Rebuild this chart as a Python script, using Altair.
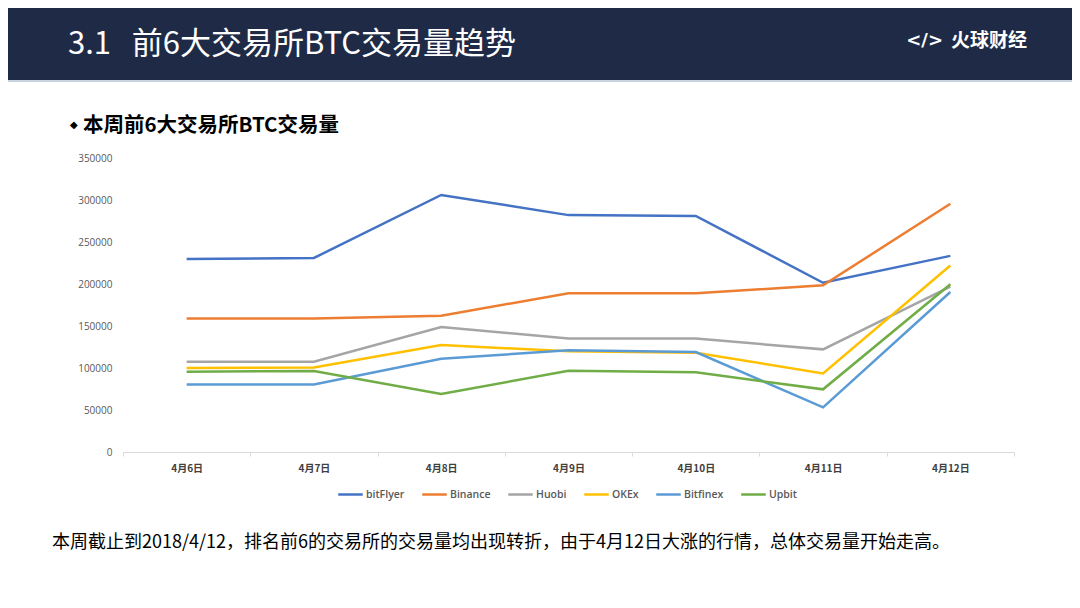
import altair as alt
import pandas as pd

dates = ["4月6日", "4月7日", "4月8日", "4月9日", "4月10日", "4月11日", "4月12日"]
exchanges = ["bitFlyer", "Binance", "Huobi", "OKEx", "Bitfinex", "Upbit"]
colors = ["#4472C4", "#ED7D31", "#A5A5A5", "#FFC000", "#5B9BD5", "#70AD47"]

bitflyer = [229800, 231000, 306000, 282000, 281000, 201500, 233500]
binance = [159000, 159000, 162300, 189000, 189000, 198400, 295500]
huobi = [107500, 107500, 148800, 135000, 135000, 122200, 197000]
okex = [100000, 100500, 127400, 119800, 118200, 93600, 222000]
bitfinex = [80500, 80500, 111100, 121000, 119000, 53200, 190500]
upbit = [95600, 96500, 69000, 96800, 94800, 74600, 199800]

series = [bitflyer, binance, huobi, okex, bitfinex, upbit]
rows = []
for name, vals in zip(exchanges, series):
    for d, v in zip(dates, vals):
        rows.append({"date": d, "exchange": name, "value": v})
df = pd.DataFrame(rows)

W, H = 891, 294
PL, PT = 115, 150
NAVY = "#1f2b46"
FONT = "Noto Sans CJK SC"

lines = alt.Chart(df).mark_line(strokeWidth=2.5).encode(
    x=alt.X("date:N", sort=dates, title=None,
            scale=alt.Scale(type="band", paddingInner=0, paddingOuter=0),
            axis=alt.Axis(labelAngle=0, tickBand="extent", domainColor="#d9d9d9",
                          tickColor="#d9d9d9", tickSize=4, labelPadding=7,
                          labelFont=FONT, labelFontSize=10, labelColor="#404040",
                          labelFontWeight="bold", grid=False)),
    y=alt.Y("value:Q", title=None,
            scale=alt.Scale(domain=[0, 350000], nice=False),
            axis=alt.Axis(values=[0, 50000, 100000, 150000, 200000, 250000, 300000, 350000],
                          format="d", domain=False, ticks=False, grid=False,
                          labelPadding=11, labelFont="Open Sans", labelFontSize=10,
                          labelColor="#595959")),
    color=alt.Color("exchange:N", sort=exchanges,
                    scale=alt.Scale(domain=exchanges, range=colors),
                    legend=alt.Legend(title=None, orient="none", direction="horizontal",
                                      legendX=214, legendY=323, symbolType="stroke",
                                      symbolSize=600, symbolStrokeWidth=2.5,
                                      columnPadding=12, labelFont="Open Sans",
                                      labelFontSize=10.5, labelColor="#595959",
                                      labelFontWeight=600, labelOffset=2)),
    detail="exchange:N",
)

dummy = pd.DataFrame({"k": [0]})

header = alt.Chart(dummy).mark_rect(color=NAVY).encode(
    x=alt.value(-PL), x2=alt.value(W + 60), y=alt.value(-PT), y2=alt.value(-78)
)
header_line = alt.Chart(dummy).mark_rect(color="#c9d4e0").encode(
    x=alt.value(-PL), x2=alt.value(W + 60), y=alt.value(-78), y2=alt.value(-76)
)

title = alt.Chart(dummy).mark_text(
    text="3.1\u00a0\u00a0 前6大交易所BTC交易量趋势", font=FONT, fontSize=31, color="white",
    align="left", baseline="alphabetic"
).encode(x=alt.value(-55), y=alt.value(-104))

logo_icon = alt.Chart(dummy).mark_text(
    text="</>", font="DejaVu Sans", fontSize=18, fontWeight="bold", color="white",
    align="right", baseline="alphabetic"
).encode(x=alt.value(820), y=alt.value(-112))

logo = alt.Chart(dummy).mark_text(
    text="火球财经", font=FONT, fontSize=19, fontWeight="bold", color="white",
    align="right", baseline="alphabetic"
).encode(x=alt.value(904), y=alt.value(-111))

diamond = alt.Chart(dummy).mark_text(
    text="◆", font="DejaVu Sans", fontSize=10, color="black",
    align="left", baseline="middle"
).encode(x=alt.value(-53), y=alt.value(-33))

subtitle = alt.Chart(dummy).mark_text(
    text="本周前6大交易所BTC交易量", font=FONT, fontSize=20.5, fontWeight="bold",
    color="black", align="left", baseline="alphabetic"
).encode(x=alt.value(-40), y=alt.value(-26))

note = alt.Chart(dummy).mark_text(
    text="本周截止到2018/4/12，排名前6的交易所的交易量均出现转折，由于4月12日大涨的行情，总体交易量开始走高。",
    font=FONT, fontSize=18, fontWeight="normal", color="black", align="left", baseline="alphabetic"
).encode(x=alt.value(-71), y=alt.value(390))

chart = alt.layer(
    header, header_line, title, logo_icon, logo, diamond, subtitle, lines, note
).properties(
    width=W, height=H,
    background="white",
    padding={"left": PL, "top": PT, "right": 58, "bottom": 148},
    autosize=alt.AutoSizeParams(type="none"),
).configure_view(stroke=None)

chart.save("out.html", embed_options={"renderer": "svg", "actions": False})
